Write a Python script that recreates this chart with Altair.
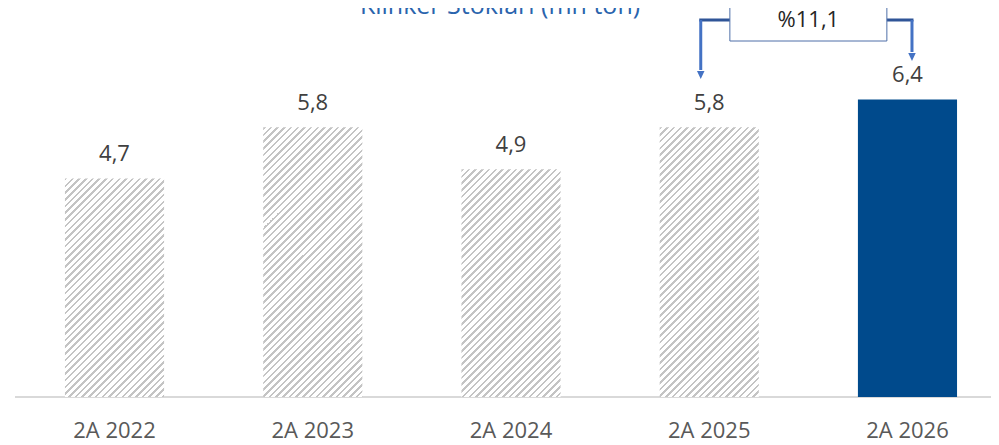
import altair as alt
import pandas as pd

# ---- data ----
categories = ["2A 2022", "2A 2023", "2A 2024", "2A 2025", "2A 2026"]
values = [4.7, 5.8, 4.9, 5.8, 6.4]
value_labels = ["4,7", "5,8", "4,9", "5,8", "6,4"]
highlight = [False, False, False, False, True]
title_text = "Klinker Stokları (mn ton)"
change_label = "%11,1"
change_from = "2A 2025"
change_to = "2A 2026"

df = pd.DataFrame({"cat": categories, "val": values, "lab": value_labels, "hl": highlight})

# ---- layout constants (pixels, view coordinates) ----
W, H = 983, 436
BASE_Y = 389          # pixel row of value 0
PPU = 46.5            # pixels per unit
R0, R1 = 7.4, 998.6   # band range
P_IN, P_OUT = 0.5, 0.25
n = len(categories)
step = (R1 - R0) / (n - P_IN + 2 * P_OUT)
bandw = step * (1 - P_IN)
centers = {c: R0 + P_OUT * step + i * step + bandw / 2 for i, c in enumerate(categories)}

ymax = BASE_Y / PPU
ymin = -(H - BASE_Y) / PPU

FONT = "Open Sans"

xs = alt.X("cat:N", scale=alt.Scale(domain=categories, range=[R0, R1],
                                    paddingInner=P_IN, paddingOuter=P_OUT), axis=None)
yscale = alt.Scale(domain=[ymin, ymax], nice=False, zero=False)
ys = alt.Y("val:Q", scale=yscale, axis=None)

base = alt.Chart(df)


def hatch(h_px, w_px, period=6.7, duty=0.38, col="#c4c4c4"):
    tot = w_px + h_px
    c = tot / (w_px ** 2 + h_px ** 2)
    stops = []
    k = 0
    while k * period < tot:
        t0 = k * period / tot
        t1 = min((k * period + duty * period) / tot, 1.0)
        t2 = min((k + 1) * period / tot, 1.0)
        stops += [alt.GradientStop(offset=t0, color=col), alt.GradientStop(offset=t1, color=col),
                  alt.GradientStop(offset=t1, color="#ffffff"), alt.GradientStop(offset=t2, color="#ffffff")]
        k += 1
    return alt.LinearGradient(gradient="linear", stops=stops, x1=0, y1=0, x2=c * w_px, y2=c * h_px)


layers = []
for c, v, h in zip(categories, values, highlight):
    fill = "#004a8c" if h else hatch(v * PPU, bandw)
    layers.append(
        base.transform_filter(alt.datum.cat == c)
        .mark_bar(color=fill, size=bandw)
        .encode(x=xs, y=ys, y2=alt.datum(0))
    )

axis_line = alt.Chart(pd.DataFrame({"z": [0]})).mark_rule(color="#d9d9d9", strokeWidth=2).encode(
    x=alt.value(7), x2=alt.value(W), y=alt.Y("z:Q", scale=yscale, axis=None)
)

val_text = base.mark_text(font=FONT, fontSize=22, color="#404040", baseline="alphabetic", dy=-17).encode(
    x=xs, y=ys, text="lab:N"
)

cat_text = base.mark_text(font=FONT, fontSize=22, color="#595959", baseline="alphabetic").encode(
    x=xs, y=alt.value(430), text="cat:N"
)

# ---- change annotation ----
cx_from = centers[change_from] - 8.5
cx_to = centers[change_to] + 4.5
mid = (centers[change_from] + centers[change_to]) / 2
ann = alt.Chart(pd.DataFrame({"t": [change_label]}))
arrow_col = "#4472c4"
conn = ann.mark_rule(color="#2f5597", strokeWidth=3).encode(
    x=alt.value(cx_from - 1.5), x2=alt.value(cx_to + 1.5), y=alt.value(12))
v_left = ann.mark_rule(color=arrow_col, strokeWidth=3).encode(
    x=alt.value(cx_from), y=alt.value(12), y2=alt.value(62))
v_right = ann.mark_rule(color=arrow_col, strokeWidth=3).encode(
    x=alt.value(cx_to), y=alt.value(12), y2=alt.value(44))
tri = "M-0.94,-1L0.94,-1L0,1Z"
head_l = ann.mark_point(shape=tri, filled=True, size=64, color=arrow_col, opacity=1).encode(
    x=alt.value(cx_from), y=alt.value(67))
head_r = ann.mark_point(shape=tri, filled=True, size=64, color=arrow_col, opacity=1).encode(
    x=alt.value(cx_to), y=alt.value(49))
box = ann.mark_rect(fill="white", stroke="#4f6fa8", strokeWidth=1).encode(
    x=alt.value(mid - 78.5), x2=alt.value(mid + 78.5), y=alt.value(-10), y2=alt.value(33))
box_text = ann.mark_text(font=FONT, fontSize=22, color="#262626", baseline="alphabetic").encode(
    x=alt.value(mid), y=alt.value(19), text="t:N")

title = alt.Chart(pd.DataFrame({"t": [title_text]})).mark_text(
    font=FONT, fontSize=25, color="#2a64ad", baseline="alphabetic").encode(
    x=alt.value(492), y=alt.value(6), text="t:N")

chart = alt.layer(
    axis_line, *layers, val_text, cat_text, title, conn, v_left, v_right, head_l, head_r, box, box_text
).properties(
    width=W, height=H, autosize=alt.AutoSizeParams(type="none"),
    padding={"left": 0, "top": 0, "right": 0, "bottom": 0},
    background="white"
).configure_view(stroke=None)

chart.save("out.html", embed_options={"renderer": "svg", "actions": False})
